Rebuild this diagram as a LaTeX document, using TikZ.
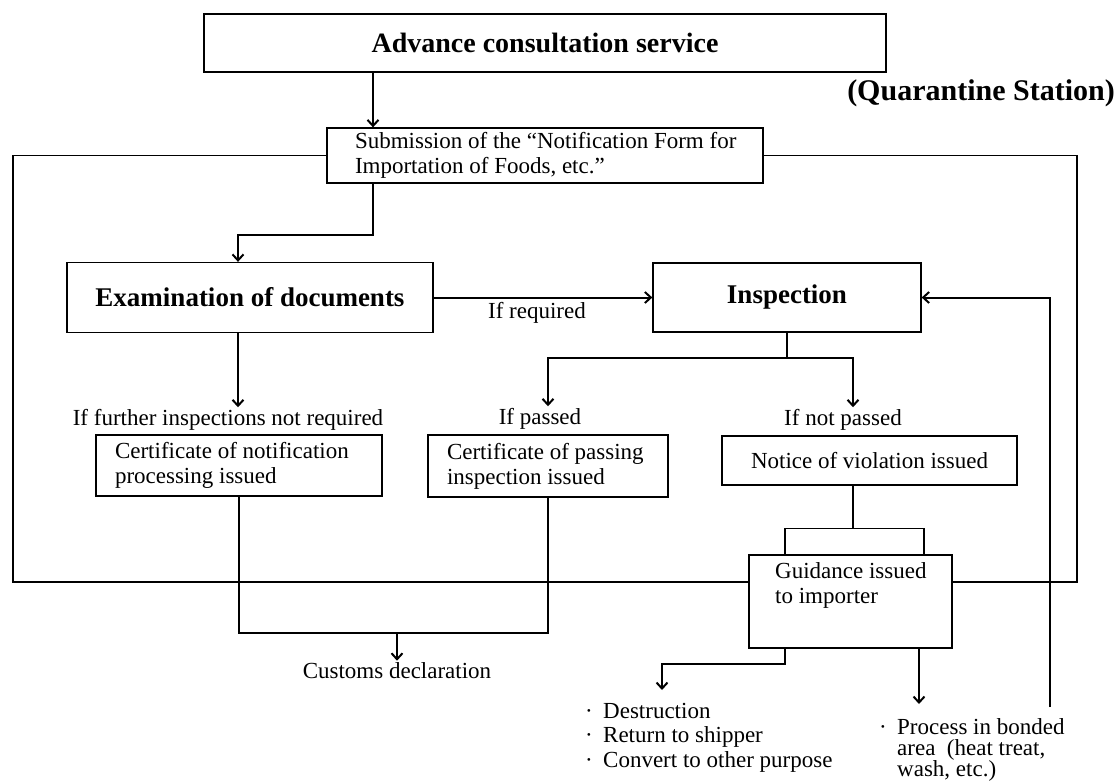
\documentclass[tikz,border=0pt]{standalone}
\usepackage{fontspec}
\setmainfont{Liberation Serif}
\usetikzlibrary{arrows.meta}
\newcommand{\boxline}[2]{\makebox[#1pt][l]{#2}}
\begin{document}
\begin{tikzpicture}[x=1pt,y=-1pt,
  box/.style={draw,line width=1.3pt,inner sep=0pt,font=\fontsize{23}{25}\selectfont},
  tbox/.style={draw,line width=1.3pt,inner sep=0pt,font=\fontsize{27}{30}\selectfont\bfseries},
  lbl/.style={inner sep=2pt,font=\fontsize{23}{25}\selectfont},
  conn/.style={line width=2pt},
  arr/.style={conn,-{Straight Barb[length=6pt,width=11pt]}},
  bus/.style={line width=1.2pt},
  brk/.style={line width=1.6pt}]
\useasboundingbox (0,0) rectangle (1120,784);

% boxes
\node[tbox,font=\fontsize{28}{30}\selectfont\bfseries,minimum width=682,minimum height=58] (adv) at (545,43) {Advance consultation service};
\node[box,minimum width=436,minimum height=55,align=left] (sub) at (545,155.5) {\boxline{380}{Submission of the “Notification Form for}\\\boxline{380}{Importation of Foods, etc.”}};
\node[inner sep=0pt,font=\fontsize{30}{32}\selectfont\bfseries] (quar) at (981,93) {(Quarantine Station)};
\node[tbox,minimum width=366,minimum height=70] (exam) at (250,297.5) {Examination of documents};
\node[tbox,minimum width=268,minimum height=69] (insp) at (787,297.5) {Inspection};
\node[box,minimum width=286,minimum height=61,align=left] (cert1) at (239,465.5) {\boxline{248}{Certificate of notification}\\\boxline{248}{processing issued}};
\node[box,minimum width=240,minimum height=62,align=left] (cert2) at (548,466) {\boxline{202}{Certificate of passing}\\\boxline{202}{inspection issued}};
\node[box,minimum width=295,minimum height=49] (notice) at (869.5,460.5) {Notice of violation issued};
\node[box,minimum width=203,minimum height=93] (guid) at (850.5,601.5) {};
\node[lbl,anchor=north west,align=left] (guidt) at (773,560) {Guidance issued\\to importer};

% labels
\node[lbl] (ifreq) at (537,313) {If required};
\node[lbl] (ifnr) at (228,420) {If further inspections not required};
\node[lbl] (ifp) at (540,419) {If passed};
\node[lbl] (ifnp) at (843,420) {If not passed};
\node[lbl] (cust) at (397,671) {Customs declaration};
\node[lbl,anchor=north west,align=left,font=\fontsize{23}{24.5}\selectfont] (dest) at (583,701)
  {\makebox[18pt][l]{·}Destruction\\\makebox[18pt][l]{·}Return to shipper\\\makebox[18pt][l]{·}Convert to other purpose};
\node[lbl,anchor=north west,align=left,font=\fontsize{23}{21}\selectfont] (proc) at (877,716)
  {\makebox[18pt][l]{·}Process in bonded\\\hspace*{18pt}area\ \ (heat treat,\\\hspace*{18pt}wash, etc.)};

% coordinates
\coordinate (busL) at (13,582);
\coordinate (busR) at (1077,582);
\coordinate (lp) at (1050,707);
\coordinate (ij) at (787,358);
\coordinate (dA) at (662,690);
\coordinate (pA) at (919,704);

% connectors
\draw[arr] ([xshift=-172pt]adv.south) -- ([xshift=-172pt]sub.north);
\draw[arr] ([xshift=-172pt]sub.south) -- ++(0,51) -| ([xshift=-12pt]exam.north);
\draw[arr] (exam.east) -- (insp.west);
\draw[arr] ([xshift=-12pt]exam.south) -- ([xshift=-12pt]exam.south |- ifnr.north);
\draw[conn] (insp.south) -- (ij);
\draw[arr] (ij) -| ([xshift=8pt]ifp.north);
\draw[arr] (ij) -| ([xshift=10pt]ifnp.north);
\draw[conn] (cert1.south) -- ++(0,136) coordinate (c1b) -- (c1b -| cert2.south) -- (cert2.south);
\draw[arr] (cust.north |- c1b) -- (cust.north);
\draw[conn] ([xshift=-16.5pt]notice.south) -- ++(0,43) coordinate (nb);
\draw[brk] ([xshift=-65.5pt]guid.north) |- (nb) -| ([xshift=73.5pt]guid.north);
\draw[bus] (sub.west) -| (busL) -- (guid.west |- busL);
\draw[bus] (sub.east) -| (busR) -- (guid.east |- busR);
\draw[arr] (lp) |- (insp.east);
\draw[arr] ([xshift=-65.5pt]guid.south) -- ++(0,15) -| (dA);
\draw[arr] ([xshift=68.5pt]guid.south) -- (pA);
\end{tikzpicture}
\end{document}
